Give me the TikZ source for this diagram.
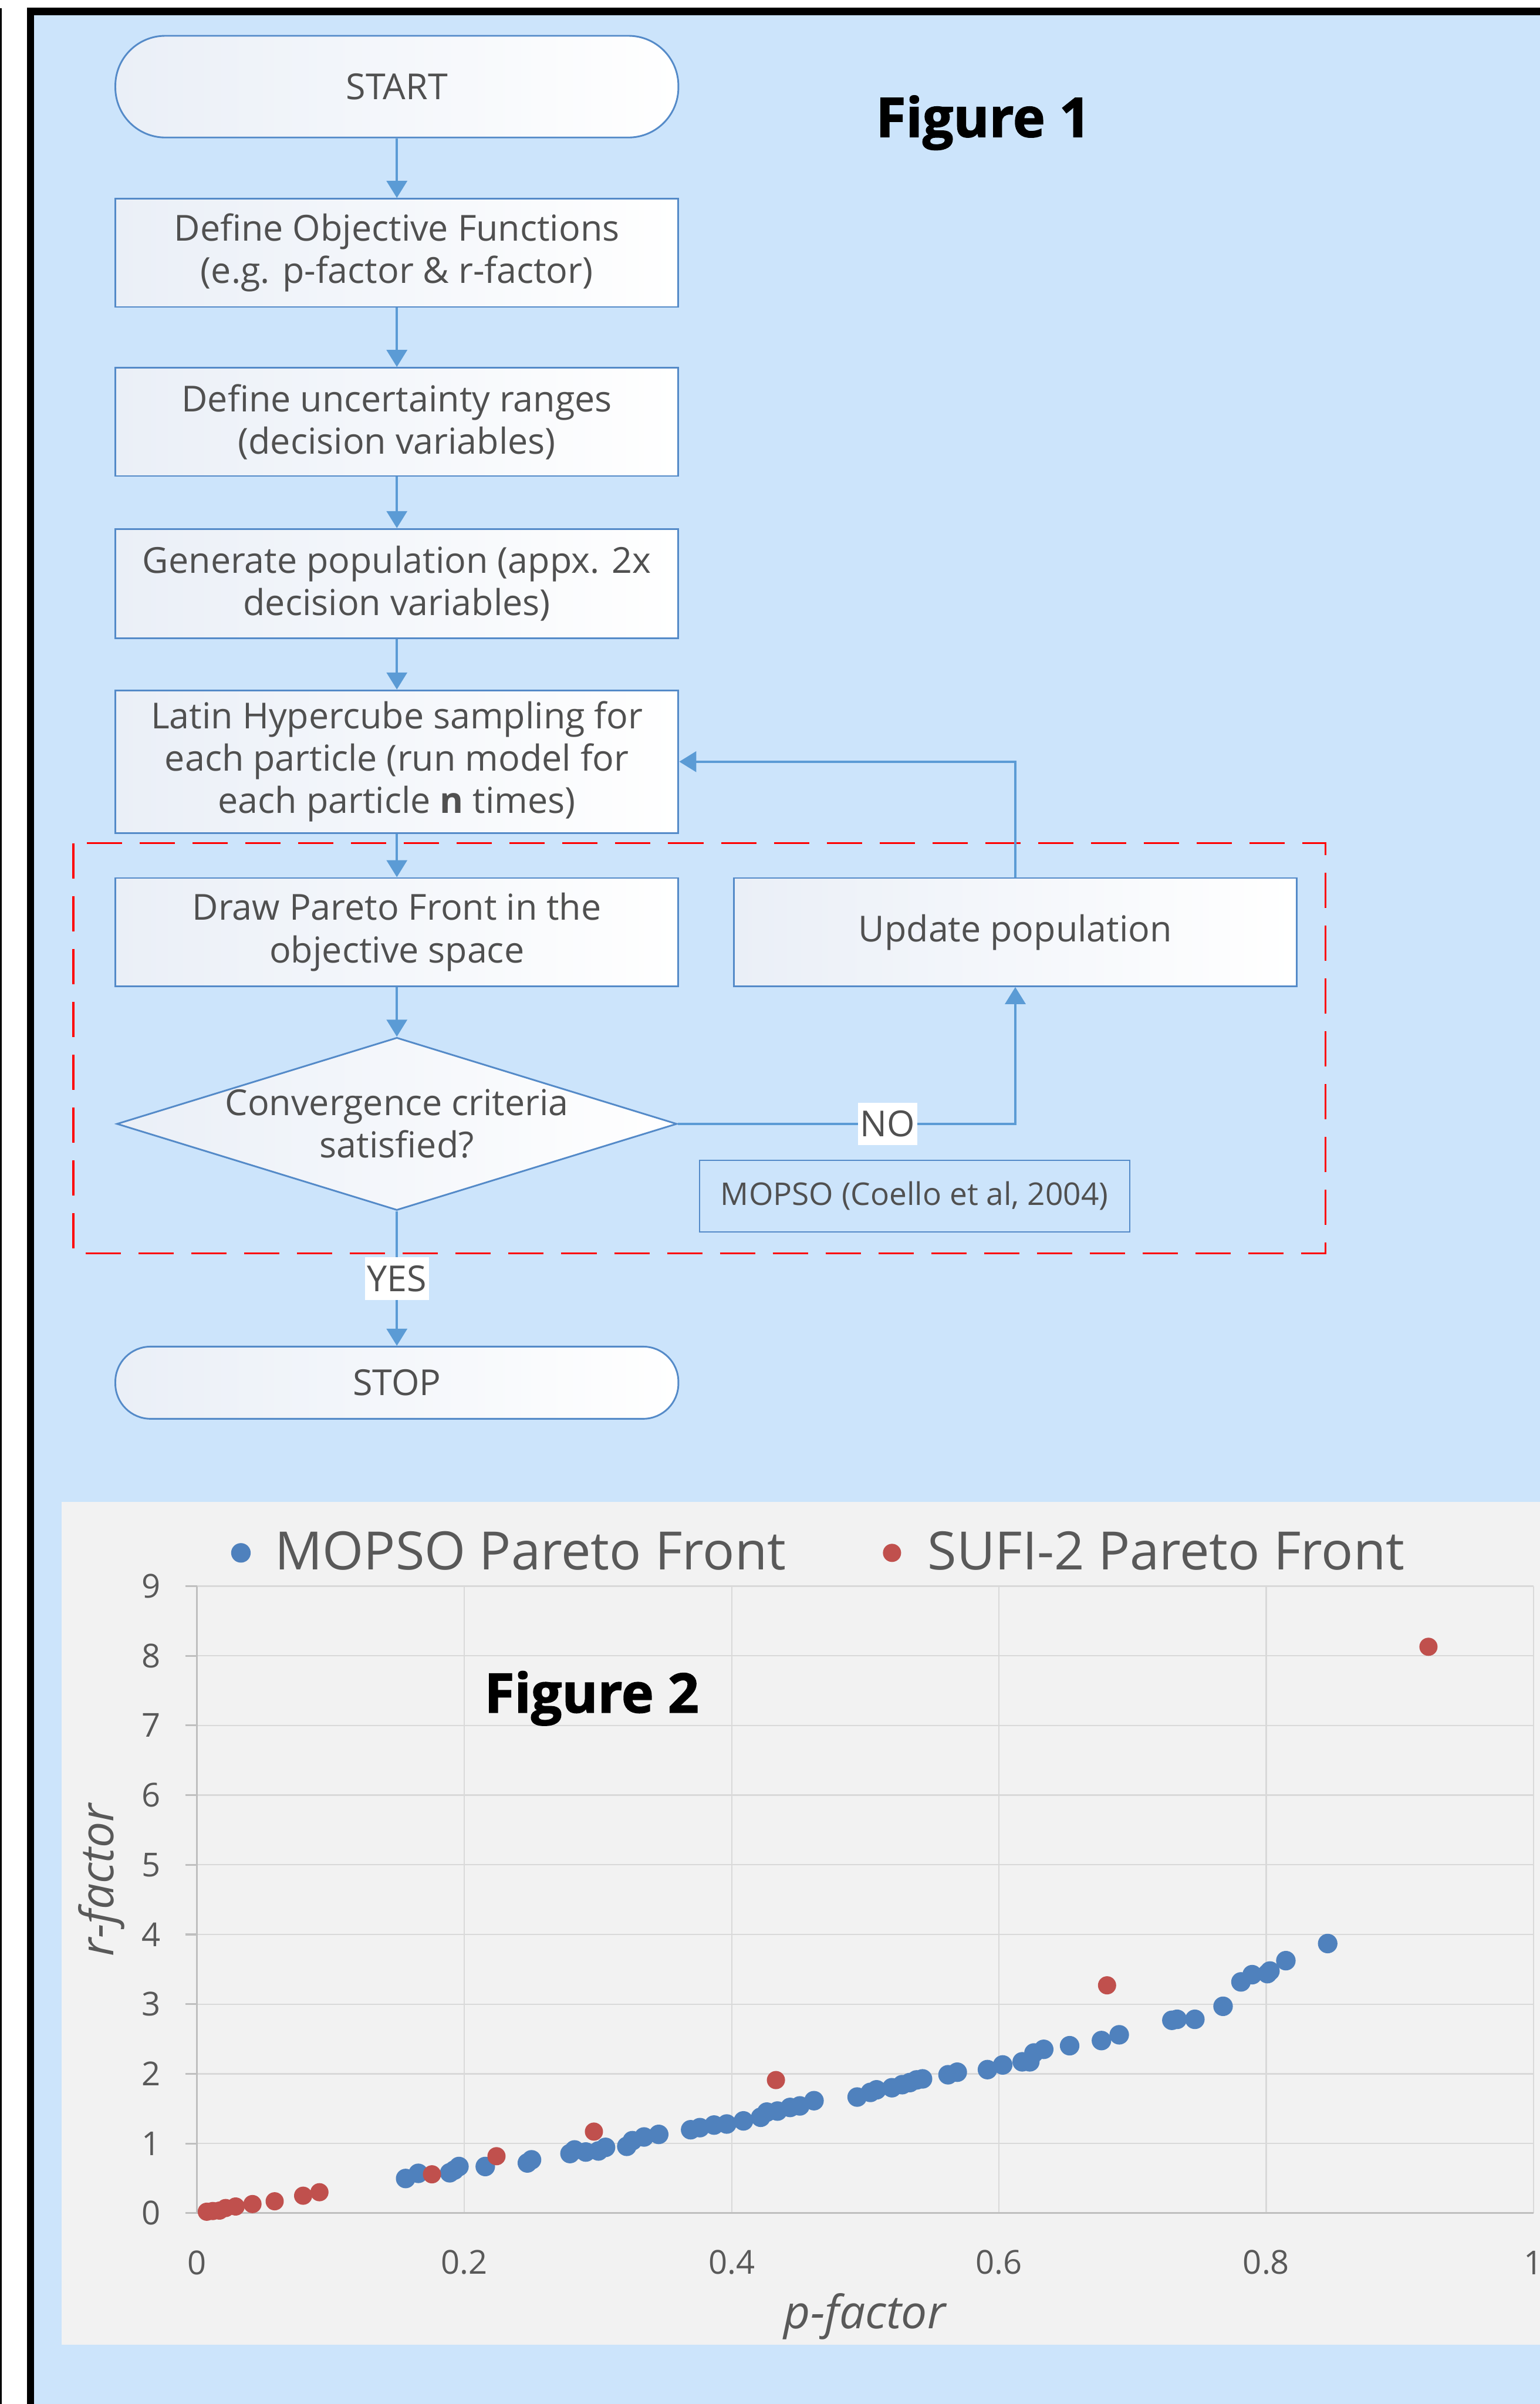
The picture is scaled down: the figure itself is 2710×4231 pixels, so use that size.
\documentclass[tikz,border=0pt]{standalone}
\usepackage{fontspec}
\setmainfont{Open Sans}
\newfontfamily\figfont[BoldFeatures={FakeBold=1.6}]{Open Sans}
\usetikzlibrary{arrows.meta,shapes.geometric}
\definecolor{bgblue}{RGB}{204,228,251}
\definecolor{lineblue}{RGB}{91,155,213}
\definecolor{boxline}{RGB}{84,138,200}
\definecolor{boxshade}{RGB}{234,239,247}
\definecolor{txt}{RGB}{80,80,80}
\definecolor{panel}{RGB}{242,242,242}
\definecolor{gridc}{RGB}{217,217,217}
\definecolor{axisc}{RGB}{191,191,191}
\definecolor{axtxt}{RGB}{89,89,89}
\definecolor{mopso}{RGB}{79,129,189}
\definecolor{sufi}{RGB}{192,80,77}
\begin{document}
\begin{tikzpicture}[x=0.25pt,y=-0.25pt,
  flow/.style={font=\fontsize{15.75}{18.65}\selectfont, text=txt},
  box/.style={flow, draw=boxline, line width=0.75pt, left color=boxshade, right color=white,
    minimum width=247.75pt, minimum height=47.6pt, inner sep=0pt, align=center},
  term/.style={box, rounded corners=22pt},
  dia/.style={shape=diamond, draw=boxline, line width=0.75pt, left color=boxshade, right color=white,
    minimum width=246.5pt, minimum height=76pt, aspect=3.2, inner sep=0pt},
  arr/.style={draw=lineblue, line width=1pt, -{Triangle[length=7.5pt,width=9pt]}},
  lbl/.style={flow, fill=white, inner xsep=1pt, inner ysep=0pt, minimum height=18.75pt},
  reddash/.style={draw=red, line width=0.85pt, dash pattern=on 15.5pt off 7.75pt},
  figlabel/.style={font=\fontsize{24}{28}\selectfont\figfont\bfseries, text=black, inner sep=0pt},
  gridline/.style={draw=gridc, line width=0.6pt},
  axisline/.style={draw=axisc, line width=0.8pt},
  ticklbl/.style={font=\fontsize{14.5}{17}\selectfont, text=axtxt, inner sep=0pt},
  legendlbl/.style={font=\fontsize{23.25}{27}\selectfont, text=axtxt, inner sep=0pt},
  axtitle/.style={font=\fontsize{20.25}{24}\selectfont\itshape, text=axtxt, inner sep=0pt},
  bdot/.style={fill=mopso},
  rdot/.style={fill=sufi}
]
\useasboundingbox (0,0) rectangle (2710,4231);
% page background and frame
\fill[white] (0,0) rectangle (2710,4231);
\fill[bgblue] (60,27) rectangle (2710,4231);
\fill[black] (47,13) rectangle (2710,27);
\fill[black] (47,13) rectangle (60,4231);
\draw[black, line width=0.75pt] (1.5,4231) -- (1.5,14);

% ---------------- Figure 1: flowchart ----------------
\node[figlabel, anchor=base west] (fig1) at (1541,241) {Figure 1};

\node[term, minimum height=44.75pt] (start) at (698.5,152.5) {START};
\node[box] (obj) at (698.5,445) {Define Objective Functions\\(e.g. p-factor \& r-factor)};
\node[box] (unc) at (698.5,742.5) {Define uncertainty ranges\\(decision variables)};
\node[box, minimum height=48pt] (gen) at (698.5,1027) {Generate population (appx. 2x\\decision variables)};
\node[box, minimum height=62.75pt] (lat) at (698.5,1340.5) {Latin Hypercube sampling for\\each particle (run model for\\each particle \textbf{n} times)};
\node[box] (par) at (698.5,1640.5) {Draw Pareto Front in the\\objective space};
\node[box] (upd) at (1787,1640.5) {Update population};
\node[dia] (conv) at (698.5,1978) {};
\node[flow, align=center, inner sep=0pt] (convtxt) at (conv.center) {Convergence criteria\\satisfied?};
\node[term, minimum height=31.75pt, rounded corners=15.5pt] (stop) at (698.5,2433.5) {STOP};

\draw[reddash] (129,1484) rectangle (2333,2206);
\node[draw=boxline, line width=0.5pt, minimum width=189.25pt, minimum height=31.5pt, inner sep=0pt,
  font=\fontsize{13.75}{16}\selectfont, text=txt] (ref) at (1609.5,2105) {MOPSO (Coello et al, 2004)};

\draw[arr] (start) -- (obj);
\draw[arr] (obj) -- (unc);
\draw[arr] (unc) -- (gen);
\draw[arr] (gen) -- (lat);
\draw[arr] (lat) -- (par);
\draw[arr] (par) -- (conv);
\draw[arr] (conv) -- node[lbl] (yes) {YES} (stop);
\draw[arr] (conv.east) -| node[lbl, pos=0.311] (no) {NO} (upd.south);
\draw[arr] (upd.north) |- (lat.east);

% ---------------- Figure 2: scatter chart ----------------
\fill[panel] (108,2643) rectangle (2710,4127);
\begin{scope}[shift={(347,3895)}, x=588pt, y=30.65pt]
  \foreach \r in {1,...,9} \draw[gridline] (0,\r) -- (1,\r);
  \foreach \p in {0.2,0.4,0.6,0.8,1} \draw[gridline] (\p,0) -- (\p,9);
  \foreach \r in {0,...,9} {
    \draw[axisline] (-0.0089,\r) -- (0,\r);
    \node[ticklbl, anchor=east] (yt\r) at (-0.0272,\r) {\r};
  }
  \draw[axisline] (0,0) -- (1,0);
  \draw[axisline] (0,0) -- (0,9);
  \foreach \p/\t in {0/0,0.2/0.2,0.4/0.4,0.6/0.6,0.8/0.8,1/1}
    \node[ticklbl] (xt\t) at (\p,-0.71) {\t};
  % MOPSO Pareto front
  \foreach \p/\r in {0.156/0.497,0.1655/0.571,0.189/0.579,0.1924/0.617,0.1959/0.669,0.2156/0.669,
    0.2471/0.72,0.2502/0.765,0.279/0.855,0.2824/0.907,0.2908/0.877,0.3003/0.892,0.3056/0.944,
    0.3215/0.959,0.3257/1.04,0.3344/1.093,0.3454/1.13,0.3693/1.197,0.3762/1.227,0.3868/1.264,
    0.3963/1.279,0.4088/1.324,0.4217/1.376,0.4263/1.45,0.4343/1.465,0.4437/1.517,0.451/1.539,
    0.4616/1.614,0.4939/1.666,0.5038/1.733,0.5084/1.77,0.5199/1.8,0.5276/1.844,0.5333/1.874,
    0.5383/1.912,0.5428/1.927,0.5619/1.986,0.5688/2.023,0.5914/2.06,0.6028/2.127,0.6174/2.172,
    0.6231/2.172,0.6262/2.299,0.6335/2.351,0.6529/2.403,0.6767/2.477,0.69/2.56,0.7294/2.768,
    0.7333/2.782,0.7466/2.782,0.7677/2.969,0.7811/3.319,0.7895/3.423,0.8009/3.438,0.8028/3.475,
    0.8147/3.624,0.846/3.87}
    \fill[bdot] (\p,\r) circle[radius=4.3pt];
  % SUFI-2 Pareto front
  \foreach \p/\r in {0.0072/0.02,0.0117/0.03,0.0167/0.036,0.0213/0.073,0.0288/0.095,0.0414/0.13,
    0.058/0.17,0.0793/0.25,0.0915/0.30,0.1757/0.557,0.224/0.817,0.2969/1.17,0.4331/1.91,
    0.6809/3.27,0.9214/8.13}
    \fill[rdot] (\p,\r) circle[radius=4pt];
\end{scope}

\fill[bdot] (424,2733) circle[radius=4.3pt];
\node[legendlbl, anchor=base west] (leg1) at (483,2763) {MOPSO Pareto Front};
\fill[rdot] (1570,2733) circle[radius=4pt];
\node[legendlbl, anchor=base west] (leg2) at (1632,2763) {SUFI-2 Pareto Front};

\node[figlabel, anchor=base west] (fig2) at (852,3014) {Figure 2};
\node[axtitle, anchor=base] (xtitle) at (1522,4098) {p-factor};
\node[axtitle, anchor=base, rotate=90] (ytitle) at (200,3309) {r-factor};
\end{tikzpicture}
\end{document}
